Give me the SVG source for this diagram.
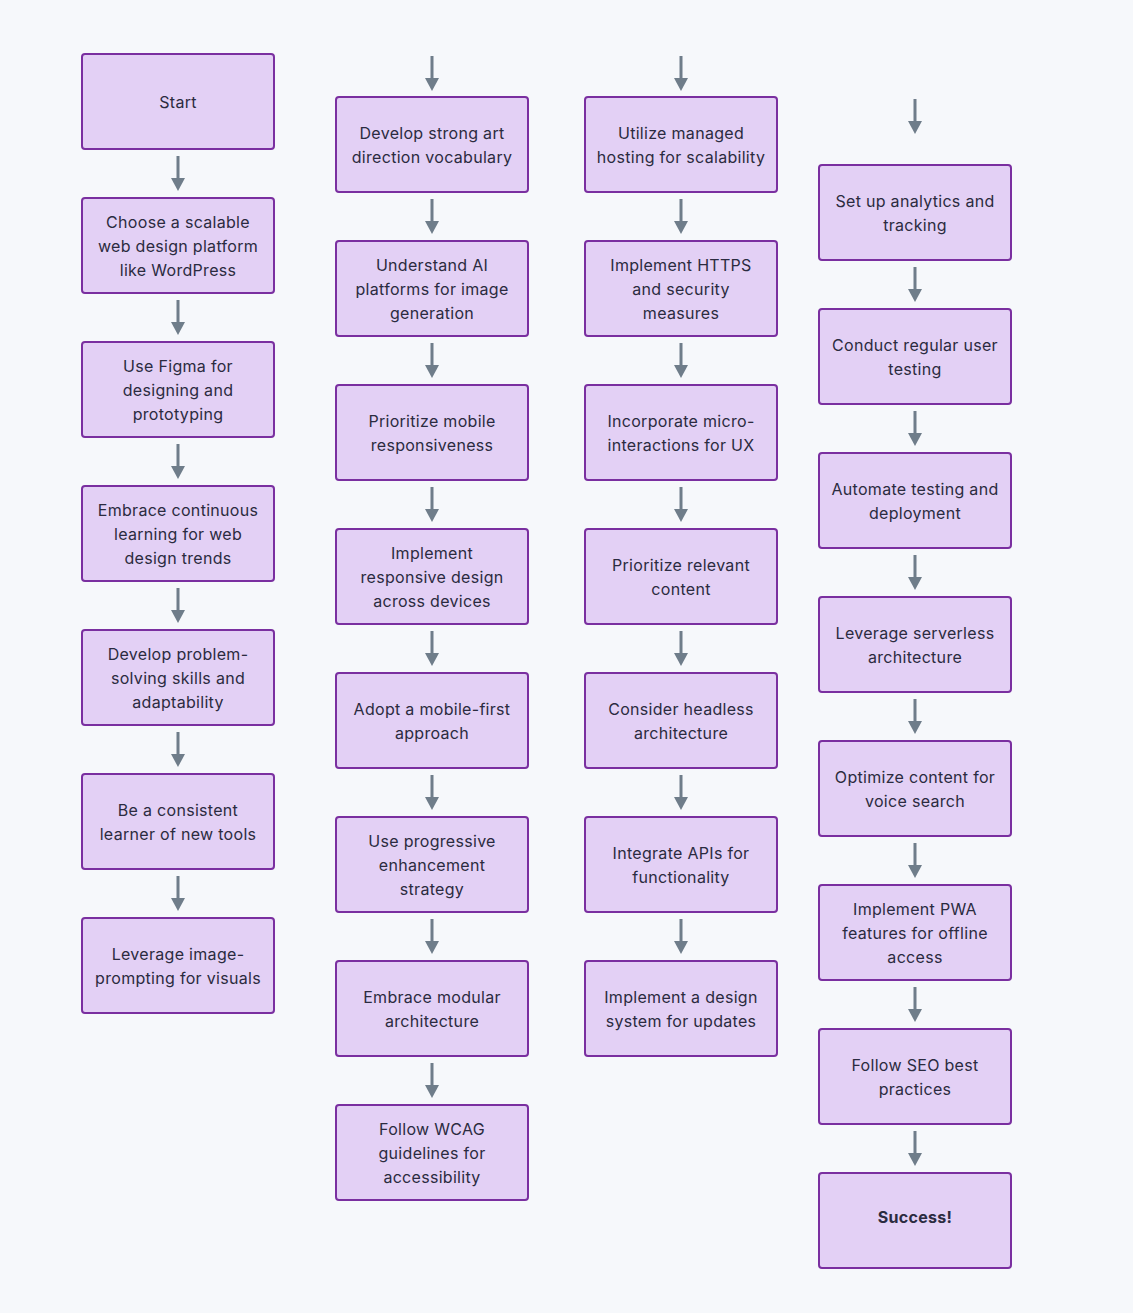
<svg xmlns="http://www.w3.org/2000/svg" width="1133" height="1313" viewBox="0 0 1133 1313">
<defs>
<style>
.n rect{fill:#e3d0f5;stroke:#7a2fa0;stroke-width:2}
.n text{font-family:Inter,"Noto Sans",sans-serif;font-size:16px;fill:#2b2b40;text-anchor:middle;dominant-baseline:central;letter-spacing:0.3px}
.e line{stroke:#6f7d8a;stroke-width:3}
.e polygon{fill:#6f7d8a}
</style>
</defs>
<rect width="1133" height="1313" fill="#f6f8fb"/>
<g class="e">
<line x1="178" y1="156" x2="178" y2="180"/><polygon points="171,178 185,178 178,191"/>
<line x1="178" y1="300" x2="178" y2="324"/><polygon points="171,322 185,322 178,335"/>
<line x1="178" y1="444" x2="178" y2="468"/><polygon points="171,466 185,466 178,479"/>
<line x1="178" y1="588" x2="178" y2="612"/><polygon points="171,610 185,610 178,623"/>
<line x1="178" y1="732" x2="178" y2="756"/><polygon points="171,754 185,754 178,767"/>
<line x1="178" y1="876" x2="178" y2="900"/><polygon points="171,898 185,898 178,911"/>
<line x1="432" y1="56" x2="432" y2="80"/><polygon points="425,78 439,78 432,91"/>
<line x1="432" y1="199" x2="432" y2="223"/><polygon points="425,221 439,221 432,234"/>
<line x1="432" y1="343" x2="432" y2="367"/><polygon points="425,365 439,365 432,378"/>
<line x1="432" y1="487" x2="432" y2="511"/><polygon points="425,509 439,509 432,522"/>
<line x1="432" y1="631" x2="432" y2="655"/><polygon points="425,653 439,653 432,666"/>
<line x1="432" y1="775" x2="432" y2="799"/><polygon points="425,797 439,797 432,810"/>
<line x1="432" y1="919" x2="432" y2="943"/><polygon points="425,941 439,941 432,954"/>
<line x1="432" y1="1063" x2="432" y2="1087"/><polygon points="425,1085 439,1085 432,1098"/>
<line x1="681" y1="56" x2="681" y2="80"/><polygon points="674,78 688,78 681,91"/>
<line x1="681" y1="199" x2="681" y2="223"/><polygon points="674,221 688,221 681,234"/>
<line x1="681" y1="343" x2="681" y2="367"/><polygon points="674,365 688,365 681,378"/>
<line x1="681" y1="487" x2="681" y2="511"/><polygon points="674,509 688,509 681,522"/>
<line x1="681" y1="631" x2="681" y2="655"/><polygon points="674,653 688,653 681,666"/>
<line x1="681" y1="775" x2="681" y2="799"/><polygon points="674,797 688,797 681,810"/>
<line x1="681" y1="919" x2="681" y2="943"/><polygon points="674,941 688,941 681,954"/>
<line x1="915" y1="99" x2="915" y2="123"/><polygon points="908,121 922,121 915,134"/>
<line x1="915" y1="267" x2="915" y2="291"/><polygon points="908,289 922,289 915,302"/>
<line x1="915" y1="411" x2="915" y2="435"/><polygon points="908,433 922,433 915,446"/>
<line x1="915" y1="555" x2="915" y2="579"/><polygon points="908,577 922,577 915,590"/>
<line x1="915" y1="699" x2="915" y2="723"/><polygon points="908,721 922,721 915,734"/>
<line x1="915" y1="843" x2="915" y2="867"/><polygon points="908,865 922,865 915,878"/>
<line x1="915" y1="987" x2="915" y2="1011"/><polygon points="908,1009 922,1009 915,1022"/>
<line x1="915" y1="1131" x2="915" y2="1155"/><polygon points="908,1153 922,1153 915,1166"/>
</g>
<g id="n1" class="n"><rect x="82" y="54" width="192" height="95" rx="3"/><text x="178" y="102">Start</text></g>
<g id="n2" class="n"><rect x="82" y="198" width="192" height="95" rx="3"/><text x="178" y="222">Choose a scalable</text><text x="178" y="246">web design platform</text><text x="178" y="270">like WordPress</text></g>
<g id="n3" class="n"><rect x="82" y="342" width="192" height="95" rx="3"/><text x="178" y="366">Use Figma for</text><text x="178" y="390">designing and</text><text x="178" y="414">prototyping</text></g>
<g id="n4" class="n"><rect x="82" y="486" width="192" height="95" rx="3"/><text x="178" y="510">Embrace continuous</text><text x="178" y="534">learning for web</text><text x="178" y="558">design trends</text></g>
<g id="n5" class="n"><rect x="82" y="630" width="192" height="95" rx="3"/><text x="178" y="654">Develop problem-</text><text x="178" y="678">solving skills and</text><text x="178" y="702">adaptability</text></g>
<g id="n6" class="n"><rect x="82" y="774" width="192" height="95" rx="3"/><text x="178" y="810">Be a consistent</text><text x="178" y="834">learner of new tools</text></g>
<g id="n7" class="n"><rect x="82" y="918" width="192" height="95" rx="3"/><text x="178" y="954">Leverage image-</text><text x="178" y="978">prompting for visuals</text></g>
<g id="n8" class="n"><rect x="336" y="97" width="192" height="95" rx="3"/><text x="432" y="133">Develop strong art</text><text x="432" y="157">direction vocabulary</text></g>
<g id="n9" class="n"><rect x="336" y="241" width="192" height="95" rx="3"/><text x="432" y="265">Understand AI</text><text x="432" y="289">platforms for image</text><text x="432" y="313">generation</text></g>
<g id="n10" class="n"><rect x="336" y="385" width="192" height="95" rx="3"/><text x="432" y="421">Prioritize mobile</text><text x="432" y="445">responsiveness</text></g>
<g id="n11" class="n"><rect x="336" y="529" width="192" height="95" rx="3"/><text x="432" y="553">Implement</text><text x="432" y="577">responsive design</text><text x="432" y="601">across devices</text></g>
<g id="n12" class="n"><rect x="336" y="673" width="192" height="95" rx="3"/><text x="432" y="709">Adopt a mobile-first</text><text x="432" y="733">approach</text></g>
<g id="n13" class="n"><rect x="336" y="817" width="192" height="95" rx="3"/><text x="432" y="841">Use progressive</text><text x="432" y="865">enhancement</text><text x="432" y="889">strategy</text></g>
<g id="n14" class="n"><rect x="336" y="961" width="192" height="95" rx="3"/><text x="432" y="997">Embrace modular</text><text x="432" y="1021">architecture</text></g>
<g id="n15" class="n"><rect x="336" y="1105" width="192" height="95" rx="3"/><text x="432" y="1129">Follow WCAG</text><text x="432" y="1153">guidelines for</text><text x="432" y="1177">accessibility</text></g>
<g id="n16" class="n"><rect x="585" y="97" width="192" height="95" rx="3"/><text x="681" y="133">Utilize managed</text><text x="681" y="157">hosting for scalability</text></g>
<g id="n17" class="n"><rect x="585" y="241" width="192" height="95" rx="3"/><text x="681" y="265">Implement HTTPS</text><text x="681" y="289">and security</text><text x="681" y="313">measures</text></g>
<g id="n18" class="n"><rect x="585" y="385" width="192" height="95" rx="3"/><text x="681" y="421">Incorporate micro-</text><text x="681" y="445">interactions for UX</text></g>
<g id="n19" class="n"><rect x="585" y="529" width="192" height="95" rx="3"/><text x="681" y="565">Prioritize relevant</text><text x="681" y="589">content</text></g>
<g id="n20" class="n"><rect x="585" y="673" width="192" height="95" rx="3"/><text x="681" y="709">Consider headless</text><text x="681" y="733">architecture</text></g>
<g id="n21" class="n"><rect x="585" y="817" width="192" height="95" rx="3"/><text x="681" y="853">Integrate APIs for</text><text x="681" y="877">functionality</text></g>
<g id="n22" class="n"><rect x="585" y="961" width="192" height="95" rx="3"/><text x="681" y="997">Implement a design</text><text x="681" y="1021">system for updates</text></g>
<g id="n23" class="n"><rect x="819" y="165" width="192" height="95" rx="3"/><text x="915" y="201">Set up analytics and</text><text x="915" y="225">tracking</text></g>
<g id="n24" class="n"><rect x="819" y="309" width="192" height="95" rx="3"/><text x="915" y="345">Conduct regular user</text><text x="915" y="369">testing</text></g>
<g id="n25" class="n"><rect x="819" y="453" width="192" height="95" rx="3"/><text x="915" y="489">Automate testing and</text><text x="915" y="513">deployment</text></g>
<g id="n26" class="n"><rect x="819" y="597" width="192" height="95" rx="3"/><text x="915" y="633">Leverage serverless</text><text x="915" y="657">architecture</text></g>
<g id="n27" class="n"><rect x="819" y="741" width="192" height="95" rx="3"/><text x="915" y="777">Optimize content for</text><text x="915" y="801">voice search</text></g>
<g id="n28" class="n"><rect x="819" y="885" width="192" height="95" rx="3"/><text x="915" y="909">Implement PWA</text><text x="915" y="933">features for offline</text><text x="915" y="957">access</text></g>
<g id="n29" class="n"><rect x="819" y="1029" width="192" height="95" rx="3"/><text x="915" y="1065">Follow SEO best</text><text x="915" y="1089">practices</text></g>
<g id="n30" class="n"><rect x="819" y="1173" width="192" height="95" rx="3"/><text x="915" y="1217" style="font-weight:bold">Success!</text></g>
</svg>
